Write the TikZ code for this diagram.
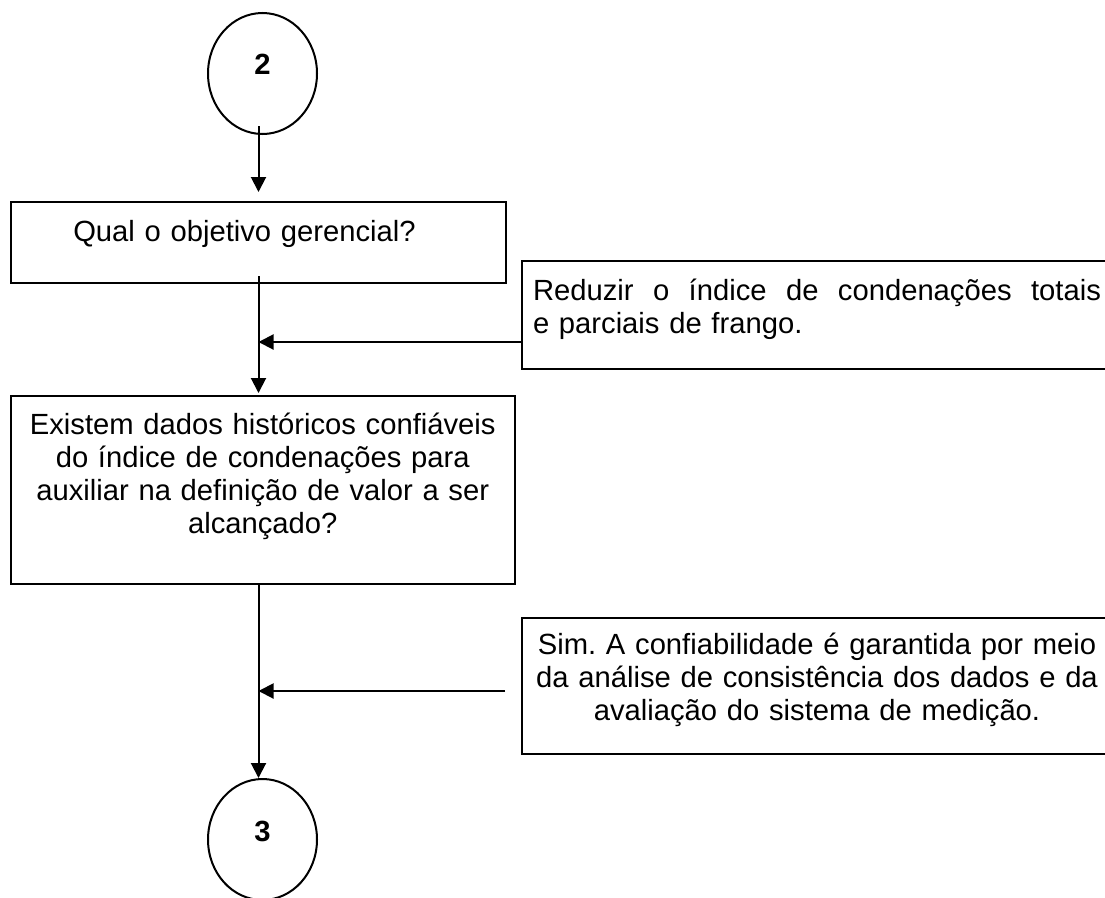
\documentclass[tikz,border=0pt]{standalone}
\usepackage{fontspec}
\setmainfont{Liberation Sans}
\usetikzlibrary{arrows.meta,shapes.geometric}
\frenchspacing
\begin{document}
\begin{tikzpicture}[x=1pt, y=-1pt,
          every node/.style={font=\fontsize{29.2}{33}\selectfont},
          caixa/.style={draw, line width=2pt, inner sep=0pt, anchor=north west},
          conector/.style={ellipse, draw, line width=2pt, inner sep=0pt, minimum width=109pt, minimum height=121pt, font=\fontsize{29.2}{33}\selectfont\bfseries, text height=21pt},
          seta/.style={line width=2pt, -{Triangle[width=15pt, length=15pt]}}]
          \clip (0, 0) rectangle (1105, 897);
          \node[conector, text depth=20pt] (C2) at (262.5, 73.5) {2};
          \node[caixa, text width=495pt, align=center, text height=39pt, text depth=42pt] (Q1) at (10, 201) {Qual o objetivo gerencial?\rule{28pt}{0pt}};
          \node[caixa, inner xsep=11pt, text width=568pt, align=left, text height=39pt, text depth=69pt] (R1) at (521, 260) {Reduzir\hfill o\hfill índice\hfill de\hfill condenações\hfill totais\\ e parciais de frango.};
          \node[caixa, text width=503.5pt, align=center, text height=38pt, text depth=150pt] (Q2) at (10, 395) {Existem dados históricos confiáveis\\ do índice de condenações para\\ auxiliar na definição de valor a ser\\ alcançado?};
          \node[caixa, text width=590pt, align=center, text height=36pt, text depth=100pt] (R2) at (521, 617) {Sim. A confiabilidade é garantida por meio\\ da análise de consistência dos dados e da\\ avaliação do sistema de medição.};
          \node[conector, text depth=18pt] (C3) at (262.5, 839.5) {3};
          \coordinate (E1) at ([yshift=-27pt]R1.west);
          \coordinate (E2) at ([yshift=-5pt]R2.west);
          \draw[seta, shorten <=-9pt, shorten >=9pt] (C2.south -| Q1.south) -- (Q1.north);
          \draw[seta, shorten <=-8pt, shorten >=2pt] (Q1.south) -- (Q1.south |- Q2.north);
          \draw[seta] (E1) -- (E1 -| Q1.south);
          \draw[seta] (Q2.south -| Q1.south) -- (C3.north -| Q1.south);
          \draw[seta, shorten <=16pt] (E2) -- (E2 -| Q1.south);
        \end{tikzpicture}
\end{document}
